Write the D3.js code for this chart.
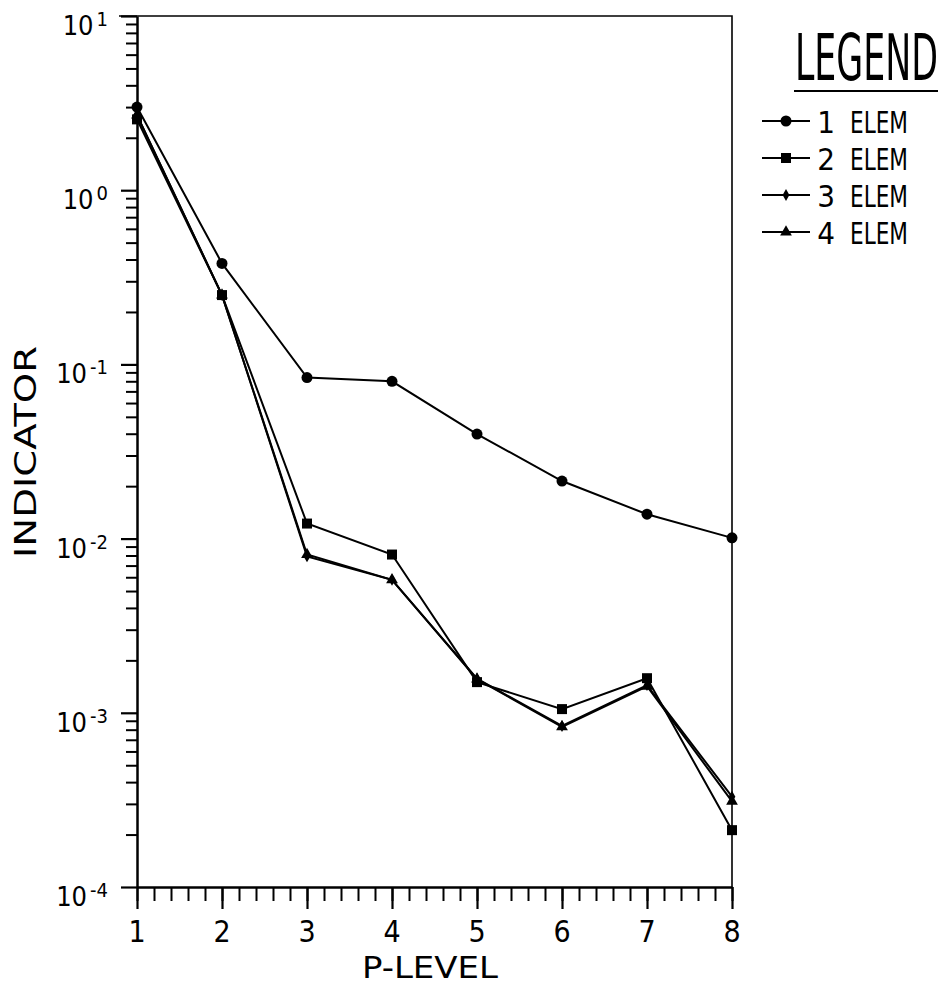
<!DOCTYPE html>
<html>
<head>
<meta charset="utf-8">
<script src="https://cdn.jsdelivr.net/npm/d3@7"></script>
<style>
  body { margin: 0; background: #fff; }
  text { font-family: "DejaVu Sans Condensed", "DejaVu Sans", sans-serif; fill: #000; }
</style>
</head>
<body>
<svg id="chart" width="945" height="985"></svg>
<script>
// values
const pLevels = [1, 2, 3, 4, 5, 6, 7, 8];
const elem1 = [3.0, 0.38, 0.084, 0.080, 0.0398, 0.0214, 0.0138, 0.0101];
const elem2 = [2.55, 0.25, 0.0122, 0.0081, 0.00150, 0.00105, 0.00158, 0.000212];
const elem3 = [2.7, 0.25, 0.0079, 0.0058, 0.00157, 0.00084, 0.00144, 0.000330];
const elem4 = [2.7, 0.25, 0.0081, 0.0058, 0.00156, 0.00083, 0.00142, 0.000310];
const seriesNames = ["1 ELEM", "2 ELEM", "3 ELEM", "4 ELEM"];
const decadeTicks = [1e-4, 1e-3, 1e-2, 1e-1, 1e0, 1e1];
const decadeExp = ["-4", "-3", "-2", "-1", "0", "1"];

const series = [elem1, elem2, elem3, elem4];
const symbols = [d3.symbolCircle, d3.symbolSquare, d3.symbolDiamond, d3.symbolTriangle];
const symbolSizes = [95, 100, 40, 60];

const svg = d3.select("#chart");

const x = d3.scaleLinear().domain([1, 8]).range([137, 732]);
const y = d3.scaleLog().domain([1e-4, 1e1]).range([887, 16]);

// squeeze a text horizontally to a given width (plotter lettering is narrow)
function fitText(sel, px, py, width, anchor) {
    sel.attr("x", 0).attr("y", 0);
    const w = sel.node().getComputedTextLength();
    const sx = width / w;
    const shift = anchor === "middle" ? -width / 2 : anchor === "end" ? -width : 0;
    sel.attr("transform", `translate(${px + shift},${py}) scale(${sx},1)`);
    return sel;
}

// frame: top and right edges
svg.append("path")
    .attr("d", `M${x(1) - 18},${y(1e1)}H${x(8)}V${y(1e-4)}`)
    .attr("fill", "none")
    .attr("stroke", "#000")
    .attr("stroke-width", 1.6);

// X axis - minor then major ticks
const minorX = d3.range(1, 8.001, 0.2);
svg.append("g")
    .attr("transform", `translate(0,${y(1e-4)})`)
    .call(d3.axisBottom(x).tickValues(minorX).tickSize(14).tickSizeOuter(0).tickFormat(""))
    .call(g => g.selectAll("line").attr("stroke-width", 2))
    .call(g => g.select(".domain").attr("stroke-width", 2.5));

svg.append("g")
    .attr("transform", `translate(0,${y(1e-4)})`)
    .call(d3.axisBottom(x).tickValues(pLevels).tickSize(22).tickSizeOuter(0).tickFormat(""))
    .call(g => g.selectAll("line").attr("stroke-width", 2.2))
    .call(g => g.select(".domain").remove());

svg.append("g").selectAll("text")
    .data(pLevels)
    .enter()
    .append("text")
    .attr("x", d => x(d))
    .attr("y", 942)
    .attr("text-anchor", "middle")
    .attr("font-size", 30)
    .text(d => d);

// Y axis - minor ticks at 2..9 of each decade
const minorY = [];
decadeTicks.slice(0, -1).forEach(dec => {
    for (let m = 2; m <= 9; m++) minorY.push(dec * m);
});

svg.append("g")
    .attr("transform", `translate(${x(1)},0)`)
    .call(d3.axisLeft(y).tickValues(minorY).tickSize(11).tickSizeOuter(0).tickFormat(""))
    .call(g => g.selectAll("line").attr("stroke-width", 2))
    .call(g => g.select(".domain").attr("stroke-width", 2.5));

svg.append("g")
    .attr("transform", `translate(${x(1)},0)`)
    .call(d3.axisLeft(y).tickValues(decadeTicks).tickSize(16).tickSizeOuter(0).tickFormat(""))
    .call(g => g.selectAll("line").attr("stroke-width", 2.2))
    .call(g => g.select(".domain").remove());

const yLabels = svg.append("g").selectAll("text")
    .data(decadeTicks)
    .enter()
    .append("text")
    .attr("x", 108)
    .attr("y", d => y(d) + 19)
    .attr("text-anchor", "end")
    .attr("font-size", 27);
yLabels.append("tspan").text("10");
yLabels.append("tspan")
    .attr("dx", 3)
    .attr("dy", -9)
    .attr("font-size", 20)
    .text((d, i) => decadeExp[i]);

// axis titles
fitText(svg.append("text").attr("font-size", 30).text("P-LEVEL"), 430, 978, 136, "middle");

const yTitle = svg.append("g").attr("transform", "translate(36,452) rotate(-90)");
fitText(yTitle.append("text").attr("font-size", 31).text("INDICATOR"), 0, 0, 212, "middle");

// series lines and markers
const line = d3.line()
    .x((d, i) => x(pLevels[i]))
    .y(d => y(d));

series.forEach((values, k) => {
    svg.append("path")
        .datum(values)
        .attr("fill", "none")
        .attr("stroke", "#000")
        .attr("stroke-width", 2)
        .attr("d", line);

    svg.append("g").selectAll("path")
        .data(values)
        .enter()
        .append("path")
        .attr("transform", (d, i) => `translate(${x(pLevels[i])},${y(d)})`)
        .attr("d", d3.symbol().type(symbols[k]).size(symbolSizes[k]))
        .attr("fill", "#000");
});

// legend
fitText(svg.append("text").attr("font-size", 64).text("LEGEND"), 795, 80, 143, "start");

svg.append("line")
    .attr("x1", 794).attr("x2", 938)
    .attr("y1", 91).attr("y2", 91)
    .attr("stroke", "#000")
    .attr("stroke-width", 2);

const legendRows = [121, 158, 195, 232];
seriesNames.forEach((name, k) => {
    const ly = legendRows[k];
    const g = svg.append("g");
    g.append("line")
        .attr("x1", 762).attr("x2", 810)
        .attr("y1", ly).attr("y2", ly)
        .attr("stroke", "#000")
        .attr("stroke-width", 2);
    g.append("path")
        .attr("transform", `translate(786,${ly})`)
        .attr("d", d3.symbol().type(symbols[k]).size(symbolSizes[k]))
        .attr("fill", "#000");
    const parts = name.split(" ");
    g.append("text")
        .attr("x", 826)
        .attr("y", ly + 12)
        .attr("text-anchor", "middle")
        .attr("font-size", 31)
        .text(parts[0]);
    fitText(g.append("text").attr("font-size", 31).text(parts[1]), 850, ly + 12, 58, "start");
});
</script>
</body>
</html>
